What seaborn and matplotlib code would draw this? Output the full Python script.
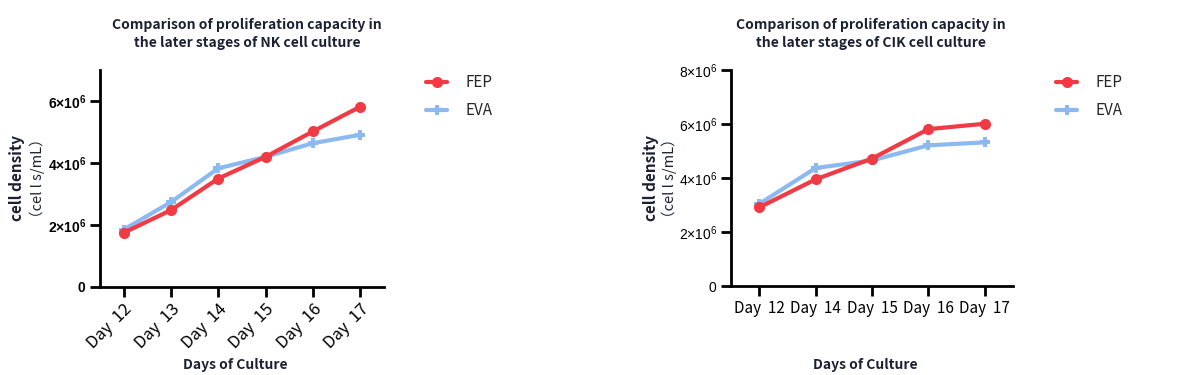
import matplotlib
matplotlib.use("Agg")
import matplotlib.pyplot as plt
import seaborn as sns
import pandas as pd

sns.set_theme(style="white")
plt.rcParams['font.family'] = ['Noto Sans CJK SC', 'DejaVu Sans']
plt.rcParams['mathtext.fontset'] = 'custom'
plt.rcParams['mathtext.rm'] = 'Liberation Sans'
plt.rcParams['mathtext.bf'] = 'Liberation Sans:bold'

# ---- data ----
nk_days = ["Day  12", "Day  13", "Day  14", "Day  15", "Day  16", "Day  17"]
nk_fep = [1.75e6, 2.48e6, 3.50e6, 4.20e6, 5.02e6, 5.82e6]
nk_eva = [1.85e6, 2.74e6, 3.83e6, 4.20e6, 4.64e6, 4.91e6]

cik_days = ["Day  12", "Day  14", "Day  15", "Day  16", "Day  17"]
cik_fep = [2.91e6, 3.95e6, 4.72e6, 5.81e6, 6.01e6]
cik_eva = [3.04e6, 4.37e6, 4.65e6, 5.21e6, 5.32e6]

nk_yticks = [0, 2e6, 4e6, 6e6]
nk_ylabels = [r"$\mathbf{0}$", r"$\mathbf{2{\times}10^{6}}$",
              r"$\mathbf{4{\times}10^{6}}$", r"$\mathbf{6{\times}10^{6}}$"]
cik_yticks = [0, 2e6, 4e6, 6e6, 8e6]
cik_ylabels = [r"$0$", r"$2{\times}10^{6}$", r"$4{\times}10^{6}$",
               r"$6{\times}10^{6}$", r"$8{\times}10^{6}$"]

titles = ["Comparison of proliferation capacity in\nthe later stages of NK cell culture",
          "Comparison of proliferation capacity in\nthe later stages of CIK cell culture"]

RED = "#F03A44"
BLUE = "#8DB9F2"
DARK = "#1c2033"

fig = plt.figure(figsize=(12.03, 3.75), dpi=100)
ax1 = fig.add_axes([100/1203, 88/375, 284/1203, 217/375])
ax2 = fig.add_axes([731/1203, 89/375, 282/1203, 216/375])


def draw(ax, days, fep, eva, yticks, ylabels, ymax, rotate, leg_xy):
    df = pd.DataFrame({
        "x": list(range(len(days))) * 2,
        "y": fep + eva,
        "group": ["FEP"] * len(days) + ["EVA"] * len(days),
    })
    sub_e = df[df.group == "EVA"]
    sub_f = df[df.group == "FEP"]
    sns.lineplot(data=sub_e, x="x", y="y", ax=ax, color=BLUE, lw=3,
                 marker="P", markersize=7, markeredgewidth=0, label="EVA")
    sns.lineplot(data=sub_f, x="x", y="y", ax=ax, color=RED, lw=3,
                 marker="o", markersize=8, markeredgewidth=0, label="FEP")
    ax.set_xlim(-0.5, len(days) - 0.5)
    ax.set_ylim(0, ymax)
    ax.set_yticks(yticks)
    ax.set_yticklabels(ylabels, fontsize=10, color="black")
    ax.set_xticks(range(len(days)))
    if rotate:
        ax.set_xticklabels(days, rotation=45, ha="right", rotation_mode="anchor",
                           fontsize=12, color="black")
    else:
        ax.set_xticklabels(days, fontsize=11, color="black")
    for s in ["top", "right"]:
        ax.spines[s].set_visible(False)
    for s in ["left", "bottom"]:
        ax.spines[s].set_linewidth(2)
        ax.spines[s].set_color("black")
    ax.tick_params(axis="both", direction="out", length=7, width=2,
                   color="black", left=True, bottom=True, pad=3)
    ax.set_xlabel("")
    ax.set_ylabel("")
    h, l = ax.get_legend_handles_labels()
    order = [l.index("FEP"), l.index("EVA")]
    ax.legend([h[i] for i in order], [l[i] for i in order],
              loc="upper left", bbox_to_anchor=leg_xy,
              bbox_transform=fig.transFigure, frameon=False, borderpad=0,
              borderaxespad=0, fontsize=11, handlelength=1.4,
              labelspacing=0.75, handletextpad=1.2)


draw(ax1, nk_days, nk_fep, nk_eva, nk_yticks, nk_ylabels, 7e6, True,
     (426/1203, 1 - 74/375))
draw(ax2, cik_days, cik_fep, cik_eva, cik_yticks, cik_ylabels, 8e6, False,
     (1056/1203, 1 - 74/375))

# titles
fig.text(247/1203, 1 - 34/375, titles[0], ha="center", va="center",
         fontsize=10, fontweight="bold", color=DARK, linespacing=1.35)
fig.text(871/1203, 1 - 34/375, titles[1], ha="center", va="center",
         fontsize=10, fontweight="bold", color=DARK, linespacing=1.35)

# y labels
for xl, xu, yc in [(17, 37, 178), (651, 669, 178)]:
    fig.text(xl/1203, 1 - yc/375, "cell density", rotation=90, ha="center",
             va="center", fontsize=11, fontweight="bold", color=DARK)
    fig.text(xu/1203, 1 - yc/375, "（cel l s/mL）", rotation=90, ha="center",
             va="center", fontsize=10.5, color=DARK)

# x labels
fig.text(235/1203, 1 - 365/375, "Days of Culture", ha="center", va="center",
         fontsize=10, fontweight="bold", color=DARK)
fig.text(865/1203, 1 - 365/375, "Days of Culture", ha="center", va="center",
         fontsize=10, fontweight="bold", color=DARK)

fig.savefig("out.png", dpi=100, facecolor="white")
